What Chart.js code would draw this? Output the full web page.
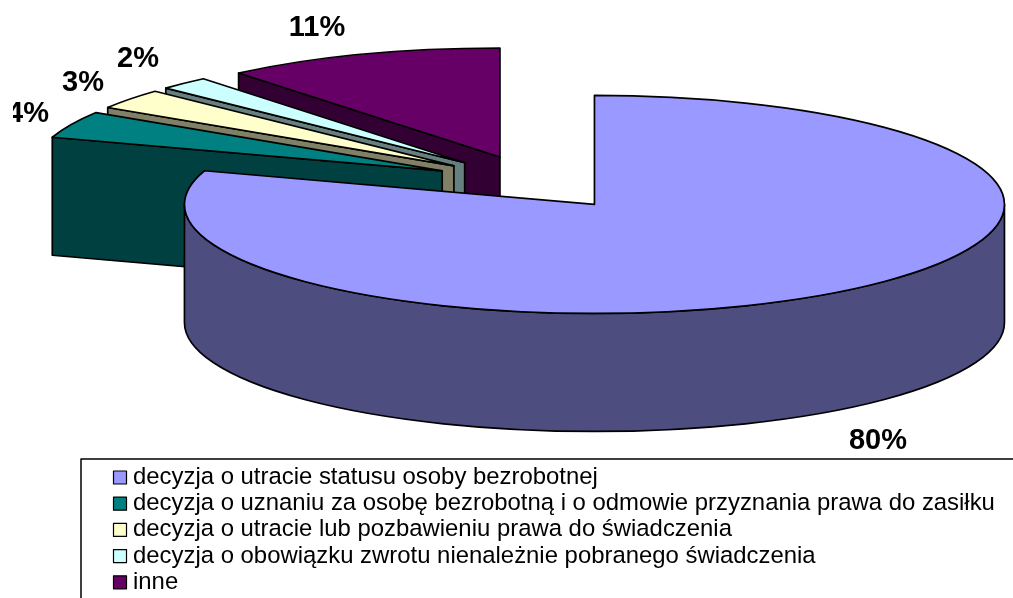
<!DOCTYPE html>
<html>
<head>
<meta charset="utf-8">
<style>html,body{margin:0;padding:0;background:#fff}canvas{display:block}</style>
<script src="https://cdn.jsdelivr.net/npm/chart.js@4/dist/chart.umd.min.js"></script>
</head>
<body>
<canvas id="c" width="1013" height="598"></canvas>
<script>
const categories = [
  "decyzja o utracie statusu osoby bezrobotnej",
  "decyzja o uznaniu za osobę bezrobotną i o odmowie przyznania prawa do zasiłku",
  "decyzja o utracie lub pozbawieniu prawa do świadczenia",
  "decyzja o obowiązku zwrotu nienależnie pobranego świadczenia",
  "inne"
];
const values = [80, 4, 3, 2, 11];
const sliceColors = ["#9999FF", "#008080", "#FFFFCC", "#CCFFFF", "#660066"];
const wallColors = ["#4D4D80", "#004040", "#808066", "#668080", "#330033"];

// Look of the tilted pie
const TILT = 109 / 410, RADIUS = 410, EXPLODE = 102, DEPTH = 118;
const CENTER_X = 534.5, CENTER_Y = 182.5, LINE = 1.7;
const LABEL_FONT = 'bold 29px "Liberation Sans"';
const LEGEND_FONT = '23.9px "Liberation Sans"';
const labelAnchors = [[878, 441], [28, 114], [83, 83], [138, 59], [317, 28]];
const legendBox = {x: 81, y: 459, rowY: 477.5, rowStep: 26.2, swatchX: 113.5, swatch: 13, textX: 133};

function geom(chart, arc) {
  const p = arc.getProps(['x', 'y', 'startAngle', 'endAngle', 'outerRadius']);
  const mid = (p.startAngle + p.endAngle) / 2;
  const ca = chart.chartArea;
  const ox = ca.left + ca.width / 2, oy = ca.top + ca.height / 2;
  const dx = Math.cos(mid) * EXPLODE, dy = Math.sin(mid) * EXPLODE;
  return {
    dx, dy, ox, oy,
    cx: p.x - ox + CENTER_X + dx,
    cy: CENTER_Y + (p.y - oy + dy) * TILT,
    r: p.outerRadius, a0: p.startAngle, a1: p.endAngle
  };
}

function drawWalls(ctx, g, wall) {
  ctx.fillStyle = wall;
  ctx.strokeStyle = '#000';
  ctx.lineWidth = LINE;
  ctx.lineJoin = 'round';
  const ry = g.r * TILT;
  const face = a => {
    const x = g.cx + g.r * Math.cos(a), y = g.cy + ry * Math.sin(a);
    ctx.beginPath();
    ctx.moveTo(g.cx, g.cy);
    ctx.lineTo(x, y);
    ctx.lineTo(x, y + DEPTH);
    ctx.lineTo(g.cx, g.cy + DEPTH);
    ctx.closePath();
    ctx.fill();
    ctx.stroke();
  };
  if (Math.sin(g.a0 - Math.PI / 2) > 1e-6) face(g.a0);
  if (Math.sin(g.a1 + Math.PI / 2) > 1e-6) face(g.a1);
  const from = Math.max(g.a0, 0), to = Math.min(g.a1, Math.PI);
  if (to > from) {
    ctx.beginPath();
    ctx.ellipse(g.cx, g.cy, g.r, ry, 0, from, to);
    ctx.ellipse(g.cx, g.cy + DEPTH, g.r, ry, 0, to, from, true);
    ctx.closePath();
    ctx.fill();
    ctx.stroke();
  }
}

function drawTop(ctx, arc, g) {
  ctx.save();
  ctx.translate(CENTER_X, CENTER_Y);
  ctx.scale(1, TILT);
  ctx.translate(g.dx - g.ox, g.dy - g.oy);
  arc.draw(ctx);
  ctx.restore();
  ctx.strokeStyle = '#000';
  ctx.lineWidth = LINE;
  ctx.lineJoin = 'round';
  ctx.beginPath();
  ctx.moveTo(g.cx, g.cy);
  ctx.ellipse(g.cx, g.cy, g.r, g.r * TILT, 0, g.a0, g.a1);
  ctx.closePath();
  ctx.stroke();
}

const tiltedPie = {
  id: 'tiltedPie',
  beforeDatasetDraw(chart, args) {
    const ctx = chart.ctx, arcs = args.meta.data;
    for (let i = arcs.length - 1; i >= 0; i--) {
      const g = geom(chart, arcs[i]);
      drawWalls(ctx, g, wallColors[i]);
      drawTop(ctx, arcs[i], g);
    }
    return false;
  },
  afterDatasetsDraw(chart) {
    const ctx = chart.ctx;
    // percent labels
    ctx.save();
    ctx.beginPath();
    ctx.rect(13, 0, 1000, 598);
    ctx.clip();
    ctx.fillStyle = '#000';
    ctx.font = LABEL_FONT;
    ctx.textAlign = 'center';
    ctx.textBaseline = 'middle';
    values.forEach((v, i) => ctx.fillText(v + '%', labelAnchors[i][0], labelAnchors[i][1]));
    ctx.restore();
    // legend
    const L = legendBox;
    ctx.save();
    ctx.strokeStyle = '#000';
    ctx.lineWidth = 1.5;
    ctx.beginPath();
    ctx.moveTo(1013, L.y);
    ctx.lineTo(L.x, L.y);
    ctx.lineTo(L.x, 598);
    ctx.stroke();
    ctx.font = LEGEND_FONT;
    ctx.textBaseline = 'middle';
    ctx.textAlign = 'left';
    categories.forEach((name, i) => {
      const y = L.rowY + i * L.rowStep;
      ctx.fillStyle = sliceColors[i];
      ctx.fillRect(L.swatchX, y - L.swatch / 2, L.swatch, L.swatch);
      ctx.strokeStyle = '#000';
      ctx.lineWidth = 1.2;
      ctx.strokeRect(L.swatchX, y - L.swatch / 2, L.swatch, L.swatch);
      ctx.fillStyle = '#000';
      ctx.fillText(name, L.textX, y);
    });
    ctx.restore();
  }
};

new Chart(document.getElementById('c'), {
  type: 'pie',
  plugins: [tiltedPie],
  data: {
    labels: categories,
    datasets: [{
      data: values,
      backgroundColor: sliceColors,
      borderWidth: 0
    }]
  },
  options: {
    responsive: false,
    animation: false,
    radius: RADIUS,
    events: [],
    plugins: {legend: {display: false}, tooltip: {enabled: false}, title: {display: false}}
  }
});
</script>
</body>
</html>
